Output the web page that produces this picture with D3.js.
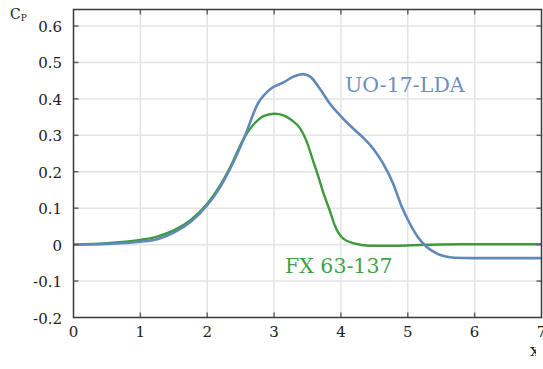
<!DOCTYPE html>
<html><head><meta charset="utf-8">
<script src="https://cdn.jsdelivr.net/npm/d3@7"></script>
<style>html,body{margin:0;padding:0;background:#fff;}svg{display:block;}
svg text{font-family:"DejaVu Serif","Liberation Serif",serif;}</style>
</head><body>
<script>
const xTicks = [0,1,2,3,4,5,6,7];
const yTicks = [-0.2,-0.1,0,0.1,0.2,0.3,0.4,0.5,0.6];
const yTickLabels = ["-0.2","-0.1","0","0.1","0.2","0.3","0.4","0.5","0.6"];

const uoX = [0,0.5,1.0,1.25,1.5,1.75,2.0,2.2,2.34,2.56,2.76,2.86,2.96,3.14,3.29,3.43,3.54,3.68,3.83,3.99,4.1,4.2,4.33,4.48,4.63,4.78,4.91,5.03,5.15,5.28,5.43,5.55,5.7,6.0,7.0];
const uoY = [0,0.002,0.008,0.015,0.033,0.062,0.108,0.16,0.207,0.296,0.388,0.412,0.429,0.445,0.461,0.468,0.461,0.429,0.388,0.354,0.333,0.316,0.294,0.264,0.223,0.168,0.104,0.058,0.021,-0.006,-0.024,-0.032,-0.036,-0.037,-0.037];

const fxX = [0,0.5,1.0,1.25,1.5,1.75,2.0,2.2,2.34,2.56,2.71,2.86,3.01,3.14,3.26,3.39,3.49,3.58,3.67,3.75,3.83,3.91,4.01,4.18,4.43,4.83,5.18,5.48,6.0,7.0];
const fxY = [0,0.004,0.013,0.022,0.039,0.067,0.112,0.165,0.211,0.296,0.333,0.354,0.359,0.355,0.342,0.319,0.282,0.232,0.182,0.135,0.095,0.052,0.021,0.004,-0.003,-0.003,-0.001,0.0005,0.001,0.001];

const W = 543, H = 369;
const L = 73.5, R = 541.5, T = 9.5, B = 317.5;
const blue = "#6088b8", green = "#3d9a3d";

const svg = d3.select("body").append("svg").attr("width", W).attr("height", H);
const x = d3.scaleLinear().domain([0,7]).range([L,R]);
const y = d3.scaleLinear().domain([-0.2,0.6]).range([B,26]);

const g = svg.append("g");
g.selectAll(".gx").data(xTicks.slice(1,-1)).join("line")
  .attr("x1", d=>x(d)).attr("x2", d=>x(d)).attr("y1", T).attr("y2", B)
  .attr("stroke", "#e4e4e4").attr("stroke-width", 1.5);
g.selectAll(".gy").data(yTicks.slice(1)).join("line")
  .attr("x1", L).attr("x2", R).attr("y1", d=>y(d)).attr("y2", d=>y(d))
  .attr("stroke", "#e4e4e4").attr("stroke-width", 1.5);

const line = d3.line().curve(d3.curveMonotoneX);
svg.append("path").attr("d", line(fxX.map((v,i)=>[x(v), y(fxY[i])])))
  .attr("fill","none").attr("stroke", green).attr("stroke-width", 2.4);
svg.append("path").attr("d", line(uoX.map((v,i)=>[x(v), y(uoY[i])])))
  .attr("fill","none").attr("stroke", blue).attr("stroke-width", 2.6);

const tk = svg.append("g").attr("stroke", "#666").attr("stroke-width", 1.5);
xTicks.slice(1,-1).forEach(d => {
  tk.append("line").attr("x1", x(d)).attr("x2", x(d)).attr("y1", B).attr("y2", B-5);
  tk.append("line").attr("x1", x(d)).attr("x2", x(d)).attr("y1", T).attr("y2", T+5);
});
yTicks.slice(1).forEach(d => {
  tk.append("line").attr("x1", L).attr("x2", L+5).attr("y1", y(d)).attr("y2", y(d));
  tk.append("line").attr("x1", R).attr("x2", R-5).attr("y1", y(d)).attr("y2", y(d));
});

svg.append("rect").attr("x", L).attr("y", T).attr("width", R-L).attr("height", B-T)
  .attr("fill","none").attr("stroke", "#3a3a3a").attr("stroke-width", 1.5);

svg.selectAll(".yl").data(yTicks).join("text")
  .attr("x", 62).attr("y", d=>y(d)+6)
  .attr("text-anchor","end").attr("font-size", 15).attr("fill","#222")
  .text((d,i)=>yTickLabels[i]);
svg.selectAll(".xl").data(xTicks).join("text")
  .attr("x", d=>x(d)).attr("y", B+19.5)
  .attr("text-anchor","middle").attr("font-size", 15).attr("fill","#222")
  .text(d=>d);

const cp = svg.append("text").attr("x", 10).attr("y", 18.5).attr("font-size", 14).attr("fill","#222");
cp.append("tspan").text("C");
cp.append("tspan").attr("font-size", 9).attr("dy", 2.5).text("P");

svg.append("defs").append("clipPath").attr("id","xc").append("rect").attr("x",0).attr("y",0).attr("width",536).attr("height",H);
svg.append("text").attr("x", 530).attr("y", 356).attr("clip-path","url(#xc)")
  .attr("font-size", 17).attr("fill","#222").text("x");

svg.append("text").attr("x", 345).attr("y", 92).attr("font-size", 20.5)
  .attr("fill", "#6a90c0").text("UO-17-LDA");
svg.append("text").attr("x", 285).attr("y", 273).attr("font-size", 20.5)
  .attr("fill", "#44a044").text("FX 63-137");
</script>
</body></html>
